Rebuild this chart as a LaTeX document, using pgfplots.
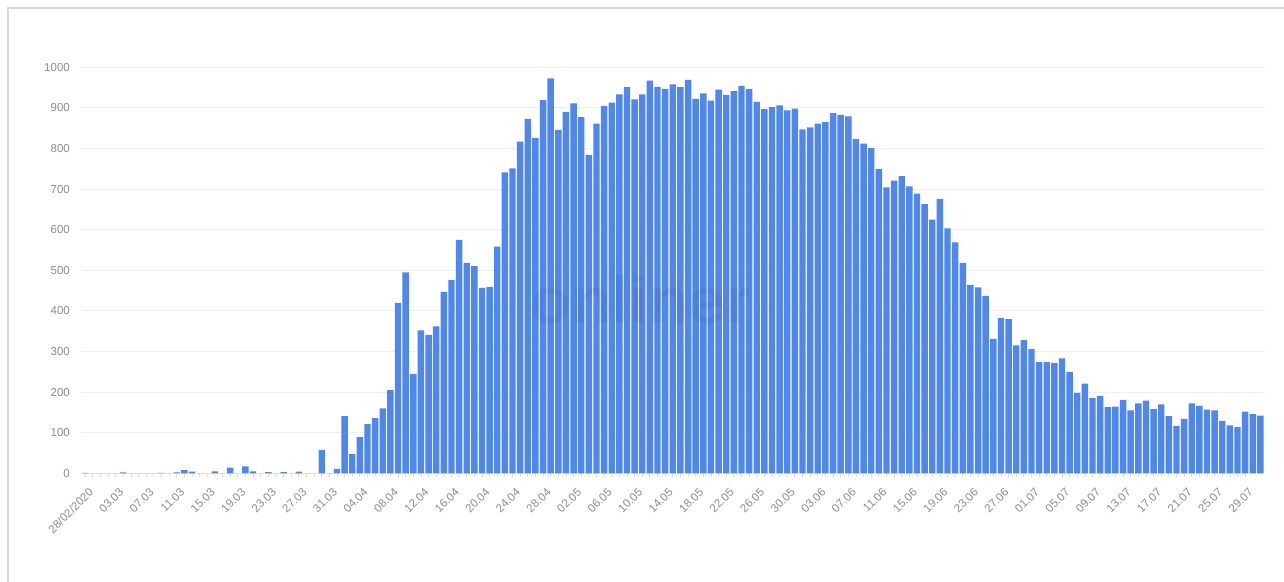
\documentclass[border=0pt]{standalone}
\usepackage{pgfplots}
\pgfplotsset{compat=1.18}
\usepackage{fontspec}
\setmainfont{Liberation Sans}
\definecolor{barblue}{RGB}{80,135,235}
\definecolor{gridc}{RGB}{238,238,238}
\definecolor{labc}{RGB}{140,140,140}
\definecolor{framec}{RGB}{215,215,215}
\definecolor{tickc}{RGB}{225,225,205}
\pgfplotstableread{
d v
0 1
1 0
2 0
3 0
4 0
5 2
6 0
7 0
8 0
9 0
10 1
11 0
12 2
13 8
14 4
15 0
16 0
17 5
18 0
19 14
20 0
21 17
22 5
23 0
24 3
25 0
26 3
27 0
28 4
29 0
30 0
31 58
32 0
33 11
34 141
35 47
36 89
37 121
38 136
39 160
40 205
41 420
42 495
43 245
44 352
45 341
46 362
47 447
48 476
49 575
50 518
51 510
52 457
53 459
54 558
55 741
56 751
57 817
58 873
59 826
60 919
61 973
62 846
63 890
64 911
65 877
66 784
67 861
68 905
69 913
70 933
71 951
72 921
73 933
74 967
75 952
76 947
77 958
78 951
79 969
80 922
81 936
82 918
83 945
84 932
85 941
86 954
87 946
88 915
89 897
90 902
91 906
92 894
93 898
94 847
95 852
96 861
97 865
98 887
99 883
100 879
101 823
102 812
103 801
104 750
105 704
106 721
107 732
108 707
109 689
110 663
111 625
112 676
113 603
114 569
115 518
116 464
117 458
118 437
119 331
120 382
121 380
122 315
123 328
124 306
125 274
126 274
127 272
128 283
129 250
130 198
131 221
132 185
133 191
134 163
135 164
136 181
137 155
138 172
139 179
140 158
141 170
142 141
143 117
144 134
145 172
146 166
147 157
148 155
149 129
150 118
151 114
152 152
153 146
154 142
}\cases
\begin{document}
\begin{tikzpicture}
\useasboundingbox (0,0) rectangle (1284bp,582bp);
\fill[white] (0,0) rectangle (1284bp,582bp);
\draw[framec, line width=1.2bp] (8bp,0) -- (8bp,574bp) -- (1284bp,574bp);
\begin{axis}[
  at={(81.7bp,108.7bp)}, anchor=south west,
  scale only axis, width=1183.3bp, height=406bp,
  xmin=-0.45, xmax=154.6, ymin=0, ymax=1000,
  enlargelimits=false,
  axis line style={draw=none},
  ytick={0,100,...,1000},
  ymajorgrids, grid style={gridc, line width=0.9bp},
  major y tick style={draw=none},
  xtick={0,4,...,152},
  xticklabels={28/02/2020,03.03,07.03,11.03,15.03,19.03,23.03,27.03,31.03,04.04,08.04,12.04,16.04,20.04,24.04,28.04,02.05,06.05,10.05,14.05,18.05,22.05,26.05,30.05,03.06,07.06,11.06,15.06,19.06,23.06,27.06,01.07,05.07,09.07,13.07,17.07,21.07,25.07,29.07},
  minor x tick num=3,
  x tick style={tickc, line width=0.8bp},
  major tick length=4bp, minor tick length=4bp,
  tick align=outside,
  xtick pos=bottom, ytick pos=left,
  /pgf/number format/assume math mode=true,
  /pgf/number format/1000 sep={},
  tick label style={font=\fontsize{11.5bp}{13bp}\selectfont, text=labc},
  yticklabel style={anchor=east, inner sep=0pt, xshift=-7.7bp},
  xticklabel style={rotate=45, anchor=north east, inner sep=0pt, yshift=-9bp, xshift=-5bp},
  clip=false,
]
\addplot[ybar, bar width=0.84, fill=barblue, draw=none] table[x=d, y=v] {\cases};
\node[font=\bfseries\fontsize{66bp}{70bp}\selectfont, text=black, text opacity=0.05] at (axis cs:72.8,427) {onliner};
\end{axis}
\end{tikzpicture}
\end{document}
